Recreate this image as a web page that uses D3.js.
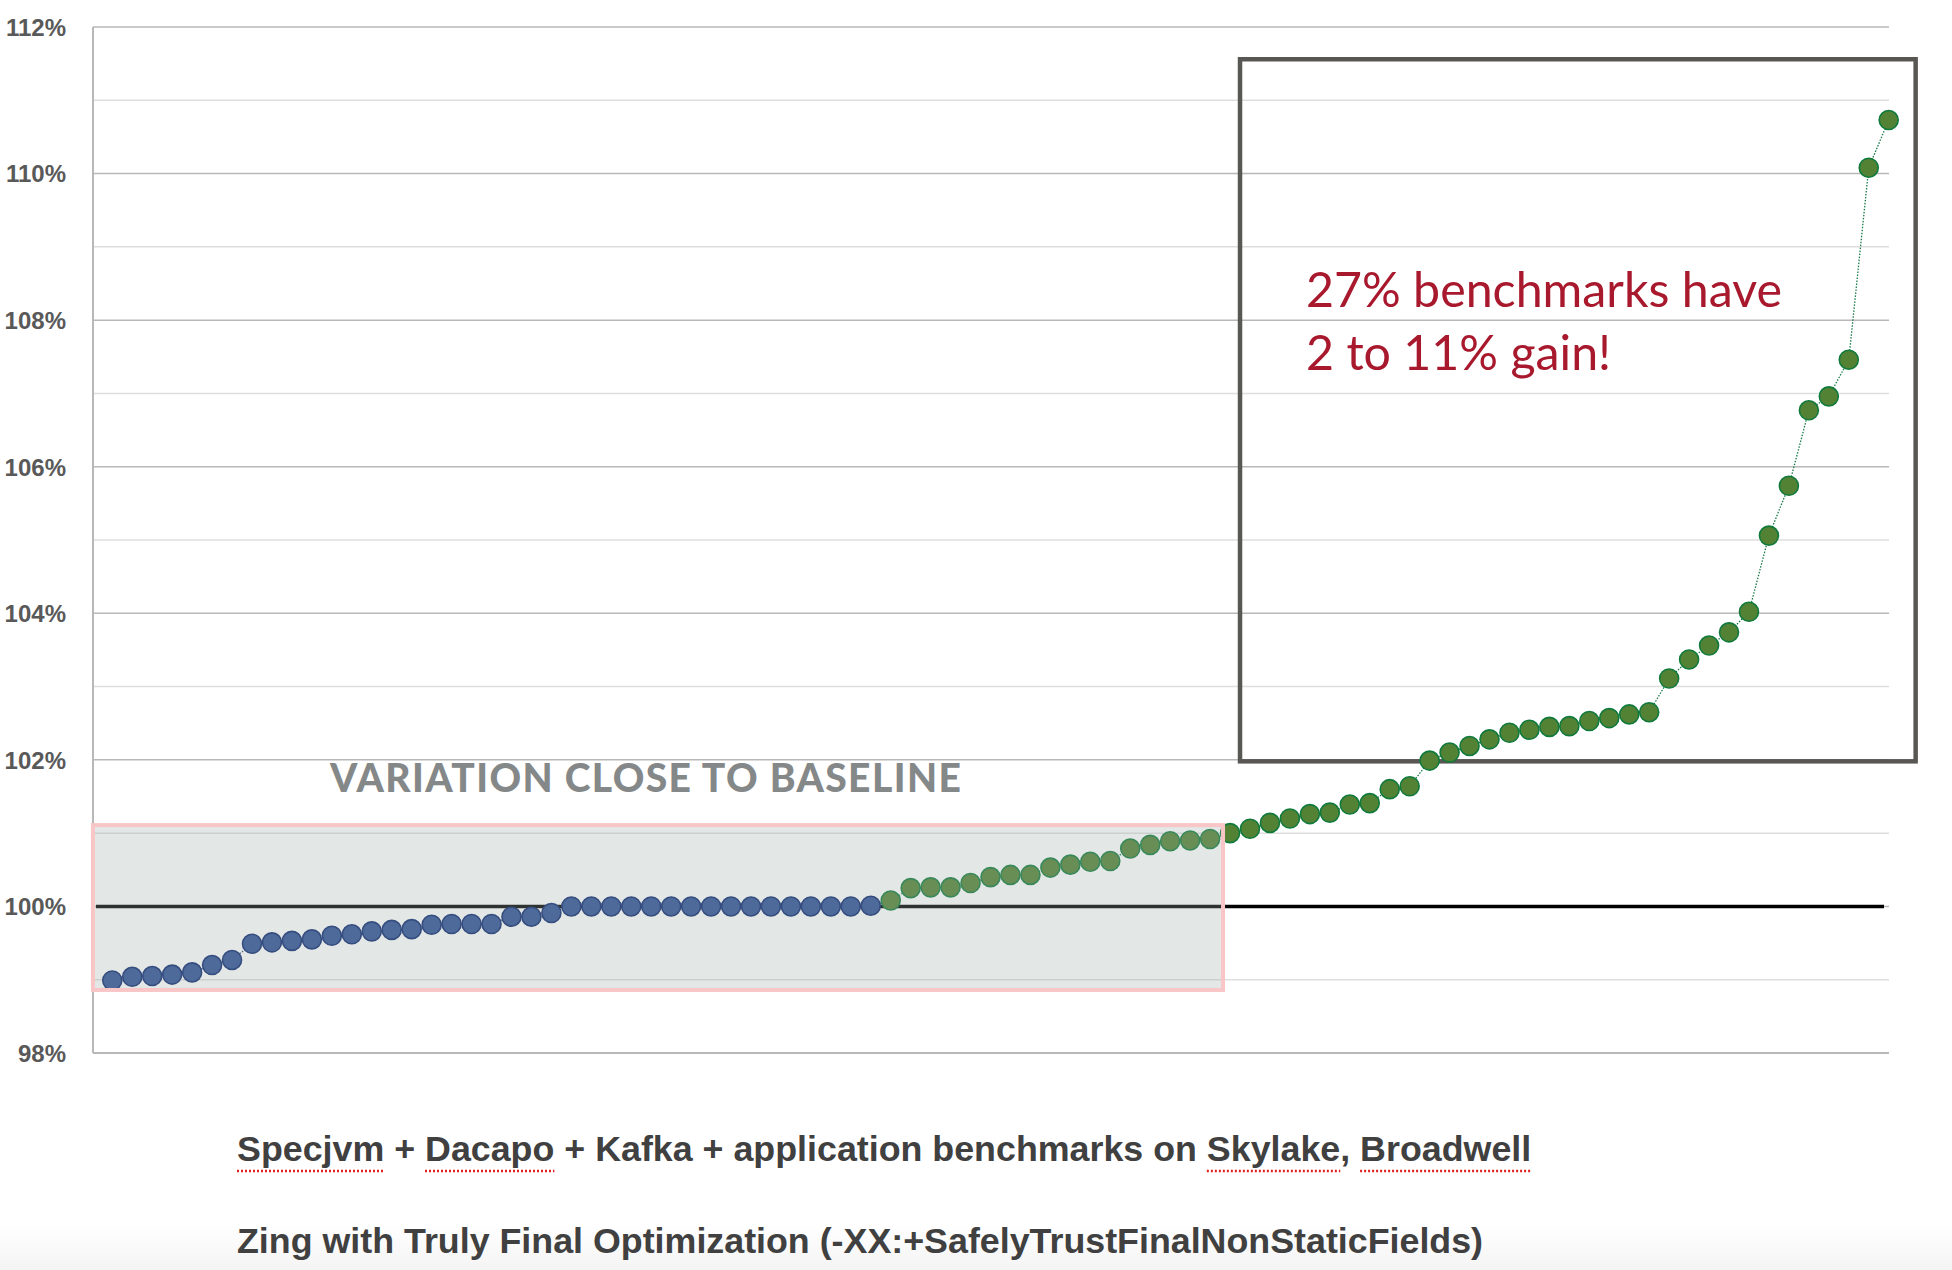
<!DOCTYPE html>
<html><head><meta charset="utf-8">
<script src="https://cdn.jsdelivr.net/npm/d3@7"></script>
<style>html,body{margin:0;padding:0;background:#fff;overflow:hidden}</style>
</head><body>
<svg id="chart" width="1952" height="1270"></svg>
<script>
// ---------- DATA ----------
const benchmarkIndex = d3.range(90);
const relativePerf = [
  98.99, 99.04, 99.05, 99.07, 99.10, 99.20, 99.27, 99.49, 99.51, 99.53,
  99.55, 99.60, 99.62, 99.66, 99.68, 99.69, 99.75, 99.76, 99.76, 99.76,
  99.86, 99.86, 99.91, 100.00, 100.00, 100.00, 100.00, 100.00, 100.00, 100.00,
  100.00, 100.00, 100.00, 100.00, 100.00, 100.00, 100.00, 100.00, 100.01, 100.08,
  100.25, 100.26, 100.26, 100.32, 100.40, 100.43, 100.43, 100.53, 100.57, 100.61,
  100.62, 100.79, 100.84, 100.89, 100.90, 100.92, 101.00, 101.06, 101.14, 101.20,
  101.26, 101.28, 101.39, 101.41, 101.60, 101.64, 101.99, 102.10, 102.19, 102.28,
  102.37, 102.41, 102.45, 102.46, 102.53, 102.57, 102.62, 102.65, 103.11, 103.37,
  103.56, 103.74, 104.02, 105.06, 105.74, 106.77, 106.96, 107.46, 110.08, 110.73
];
const blueCount = 39; // first 39 benchmarks shown in blue, rest in green
const yTickValues = [98, 100, 102, 104, 106, 108, 110, 112];
const yTickLabels = ["98%", "100%", "102%", "104%", "106%", "108%", "110%", "112%"];
const yGridValues = d3.range(99, 113, 1);
const baselineValue = 100;
const variationRegion = { i0: -0.97, i1: 55.65, v0: 98.86, v1: 101.11 };
const gainRegion = { i0: 56.5, i1: 90.35, v0: 101.98, v1: 111.56 };
const variationLabel = "VARIATION CLOSE TO BASELINE";
const annotationLines = ["27% benchmarks have", "2 to 11% gain!"];
const captionLines = [
  "Specjvm + Dacapo + Kafka + application benchmarks on Skylake, Broadwell",
  "Zing with Truly Final Optimization (-XX:+SafelyTrustFinalNonStaticFields)"
];
const misspelled = ["Specjvm", "Dacapo", "Skylake", "Broadwell"];

// ---------- LAYOUT ----------
const svg = d3.select("#chart");
const plotLeft = 93, plotRight = 1889, plotTop = 27, plotBottom = 1053;
const x = d3.scaleLinear().domain([0, 89]).range([112.3, 1888.7]);
const y = d3.scaleLinear().domain([98, 112]).range([plotBottom, plotTop]);

// bottom faint gradient
const defs = svg.append("defs");
const grad = defs.append("linearGradient").attr("id", "bg").attr("x1", 0).attr("x2", 0).attr("y1", 0).attr("y2", 1);
grad.append("stop").attr("offset", "0%").attr("stop-color", "#ffffff");
grad.append("stop").attr("offset", "100%").attr("stop-color", "#f4f4f4");
svg.append("rect").attr("x", 0).attr("y", 1225).attr("width", 1952).attr("height", 45).attr("fill", "url(#bg)");

// gridlines
svg.append("g").selectAll("line").data(yGridValues).join("line")
  .attr("x1", plotLeft).attr("x2", plotRight)
  .attr("y1", d => y(d)).attr("y2", d => y(d))
  .attr("stroke", d => d % 2 === 0 ? "#b8b8b8" : "#dedede")
  .attr("stroke-width", 1.5);

// axes
const yAxis = d3.axisLeft(y).tickValues(yTickValues).tickSize(0).tickPadding(0)
  .tickFormat((d, i) => yTickLabels[i]);
const gy = svg.append("g").attr("transform", `translate(66,0)`).call(yAxis);
gy.select(".domain").remove();
gy.selectAll("text").attr("font-family", "Liberation Sans, Arial, sans-serif")
  .attr("font-weight", "bold").attr("font-size", 24).attr("fill", "#595959")
  .attr("text-anchor", "end").attr("dy", "0.35em");

svg.append("line").attr("x1", plotLeft).attr("x2", plotLeft).attr("y1", plotTop).attr("y2", plotBottom)
  .attr("stroke", "#b8b8b8").attr("stroke-width", 2);
svg.append("line").attr("x1", plotLeft).attr("x2", plotRight).attr("y1", plotBottom).attr("y2", plotBottom)
  .attr("stroke", "#b8b8b8").attr("stroke-width", 2);

// gain box
svg.append("rect")
  .attr("x", x(gainRegion.i0)).attr("y", y(gainRegion.v1))
  .attr("width", x(gainRegion.i1) - x(gainRegion.i0))
  .attr("height", y(gainRegion.v0) - y(gainRegion.v1))
  .attr("fill", "none").attr("stroke", "#595753").attr("stroke-width", 4.5);

// baseline
svg.append("line").attr("x1", 96).attr("x2", 1884).attr("y1", y(baselineValue)).attr("y2", y(baselineValue))
  .attr("stroke", "#000").attr("stroke-width", 3.5);

// connecting dotted lines
const pts = benchmarkIndex.map(i => ({ i, v: relativePerf[i] }));
const lineGen = d3.line().x(d => x(d.i)).y(d => y(d.v));
svg.append("path").datum(pts.slice(0, blueCount)).attr("d", lineGen)
  .attr("fill", "none").attr("stroke", "#2f4a80").attr("stroke-width", 1.3).attr("stroke-dasharray", "1.5 1.5");
svg.append("path").datum(pts.slice(blueCount - 1)).attr("d", lineGen)
  .attr("fill", "none").attr("stroke", "#1a7a4a").attr("stroke-width", 1.3).attr("stroke-dasharray", "1.5 1.5");

// dots
svg.append("g").selectAll("circle").data(pts).join("circle")
  .attr("cx", d => x(d.i)).attr("cy", d => y(d.v)).attr("r", 9.5)
  .attr("fill", d => d.i < blueCount ? "#2e5096" : "#548235")
  .attr("stroke", d => d.i < blueCount ? "#0a2670" : "#0f7a3c")
  .attr("stroke-width", 1.6);

// variation overlay
svg.append("rect")
  .attr("x", x(variationRegion.i0)).attr("y", y(variationRegion.v1))
  .attr("width", x(variationRegion.i1) - x(variationRegion.i0))
  .attr("height", y(variationRegion.v0) - y(variationRegion.v1))
  .attr("fill", "rgb(160,172,166)").attr("fill-opacity", 0.29)
  .attr("stroke", "#f8c6c6").attr("stroke-width", 4);

// variation label
svg.append("text").attr("x", 330).attr("y", 792)
  .attr("font-family", "Lato, sans-serif").attr("font-weight", 900).attr("font-size", 39)
  .attr("letter-spacing", 1.4)
  .attr("fill", "#858888").text(variationLabel);

// annotation
svg.append("g").selectAll("text").data(annotationLines).join("text")
  .attr("x", 1306).attr("y", (d, i) => 307 + i * 62.7)
  .attr("font-family", "Lato, sans-serif").attr("font-size", 48.3).attr("fill", "#a8192e")
  .text(d => d);

// captions
const caps = svg.append("g").selectAll("text").data(captionLines).join("text")
  .attr("x", 237).attr("y", (d, i) => 1161 + i * 92)
  .attr("font-family", "Liberation Sans, Arial, sans-serif").attr("font-weight", "bold")
  .attr("font-size", 35.8).attr("fill", "#404040")
  .text(d => d);

// spell-check style underlines
const firstCap = caps.filter((d, i) => i === 0).node();
misspelled.forEach(w => {
  const idx = captionLines[0].indexOf(w);
  const start = firstCap.getStartPositionOfChar(idx).x;
  const len = firstCap.getSubStringLength(idx, w.length);
  svg.append("line").attr("x1", start).attr("x2", start + len)
    .attr("y1", 1171).attr("y2", 1171)
    .attr("stroke", "#e0201e").attr("stroke-width", 2.5).attr("stroke-dasharray", "2 2");
});
</script>
</body></html>
